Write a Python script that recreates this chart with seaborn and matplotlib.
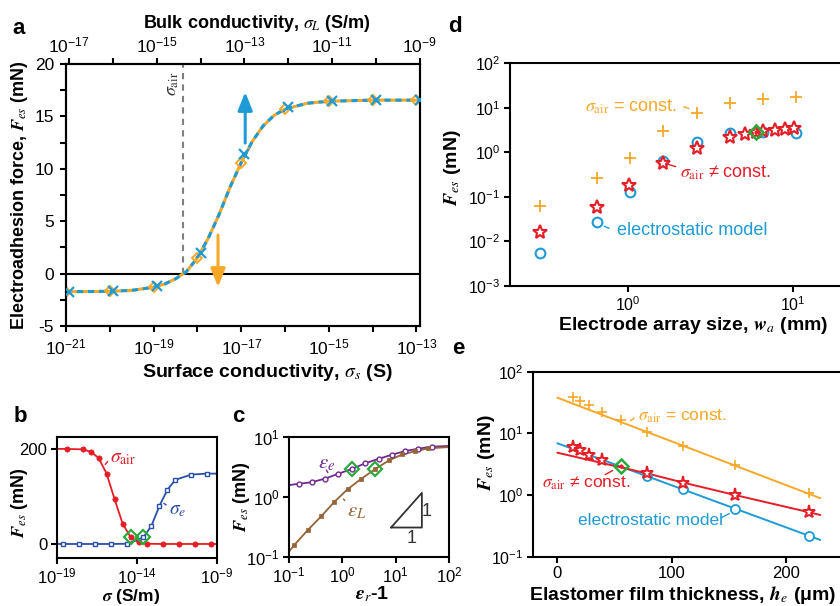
import numpy as np
import matplotlib
matplotlib.use("Agg")
import matplotlib.pyplot as plt
import matplotlib.ticker as mticker
import seaborn as sns

# ====================== DATA ======================
# (a) force vs conductivity (exponents of 10)
a_sigma_s_exp = [-21, -20, -19, -18, -17, -16, -15, -14, -13]
a_force_s = [-1.72, -1.70, -1.30, 1.50, 10.6, 15.7, 16.5, 16.55, 16.55]
a_sigma_L_exp = [-17, -16, -15, -14, -13, -12, -11, -10, -9]
a_force_L = [-1.72, -1.70, -1.20, 2.00, 11.4, 15.9, 16.5, 16.55, 16.55]
a_curve_exp = [-21.0, -20.5, -20.0, -19.5, -19.0, -18.75, -18.5, -18.25, -18.0,
               -17.75, -17.5, -17.25, -17.0, -16.75, -16.5, -16.25, -16.0,
               -15.5, -15.0, -14.0, -13.0, -12.92]
a_curve_force = [-1.72, -1.71, -1.69, -1.60, -1.30, -1.00, -0.50, 0.20, 1.50,
                 3.40, 5.70, 8.30, 10.60, 12.60, 14.10, 15.10, 15.70,
                 16.25, 16.45, 16.55, 16.55, 16.55]
a_sigma_air_exp = -18.33
a_axis_offset_exp = 3.93          # log10(sigma_L / sigma_s)
a_bottom_ticks_exp = [-21, -19, -17, -15, -13]
a_bottom_minor_exp = [-20, -18, -16, -14]
a_top_ticks_exp = [-17, -15, -13, -11, -9]
a_top_minor_exp = [-16, -14, -12, -10]

# (b) force vs sigma
b_air_exp = [-18.4, -17.4, -16.9, -16.4, -15.9, -15.4, -14.9, -14.4, -13.9,
             -13.4, -12.4, -11.4, -10.4, -9.4]
b_air_force = [200, 199, 194, 181, 148, 94, 43, 14, 3.5, 0.5, 0, 0, 0, 0]
b_air_line_exp = [-19.0] + b_air_exp + [-9.0]
b_air_line_force = [200] + b_air_force + [0]
b_e_exp = [-18.6, -17.6, -16.6, -15.6, -14.6, -13.6, -13.1, -12.6, -12.1,
           -11.6, -10.6, -9.6]
b_e_force = [0, 0, 0, 0, 0.5, 14, 38, 80, 114, 135, 146, 148]
b_e_line_exp = [-19.0] + b_e_exp + [-9.0]
b_e_line_force = [0] + b_e_force + [148]
b_green_exp = [-14.4, -13.6]
b_green_force = [14, 14]

# (c) force vs eps_r - 1
c_e_exp = [-0.81, -0.565, -0.32, -0.075, 0.176, 0.43, 0.683, 0.932, 1.176, 1.426, 1.677]
c_e_force = [1.66, 1.77, 2.03, 2.44, 2.93, 3.65, 4.33, 5.07, 5.84, 6.38, 6.89]
c_e_line_exp = [-1.0] + c_e_exp + [2.0]
c_e_line_force = [1.58] + c_e_force + [7.1]
c_L_exp = [-0.897, -0.647, -0.396, -0.152, 0.10, 0.351, 0.62, 0.871, 1.12, 1.364, 1.614]
c_L_force = [0.160, 0.282, 0.476, 0.826, 1.35, 2.0, 2.93, 4.06, 5.11, 5.78, 6.48]
c_L_line_exp = [-1.0] + c_L_exp + [2.0]
c_L_line_force = [0.123] + c_L_force + [6.8]
c_green_exp = [0.176, 0.62]
c_green_force = [2.93, 2.93]
c_tri_x = [8.2, 31.0, 31.0, 8.2]
c_tri_y = [0.31, 0.31, 1.172, 0.31]

# (d) force vs electrode array size
d_plus_w = [0.293, 0.65, 1.03, 1.64, 2.61, 4.15, 6.6, 10.5]
d_plus_force = [0.063, 0.26, 0.76, 3.04, 7.8, 12.8, 16.0, 17.8]
d_star_w = [0.293, 0.646, 1.014, 1.637, 2.61, 4.15, 5.12, 5.97, 6.6, 7.76, 8.91, 10.2]
d_star_force = [0.0164, 0.058, 0.184, 0.566, 1.27, 2.24, 2.62, 2.9, 3.0, 3.17, 3.35, 3.5]
d_circ_w = [0.293, 0.65, 1.03, 1.64, 2.61, 4.15, 6.6, 10.5]
d_circ_force = [0.0054, 0.027, 0.13, 0.64, 1.73, 2.75, 2.9, 2.67]
d_green_w = [5.97]
d_green_force = [2.9]

# (e) force vs elastomer thickness
e_plus_h = [14, 19.9, 28, 38.8, 55.7, 78.2, 110.2, 155.5, 220.2]
e_plus_force = [39.4, 33.9, 28.9, 22.5, 16.5, 10.7, 6.3, 3.07, 1.07]
e_plus_fit_h = [0, 230]
e_plus_fit_force = [37.9, 0.89]
e_star_h = [14, 19.9, 28, 38.8, 78.2, 110.2, 155.5, 220.2]
e_star_force = [6.08, 5.38, 4.47, 3.71, 2.25, 1.59, 1.0, 0.526]
e_star_fit_h = [0, 78.2, 110.2, 155.5, 220.2, 230]
e_star_fit_force = [4.86, 2.25, 1.59, 1.0, 0.526, 0.475]
e_circ_h = [78.2, 110.2, 155.5, 220.2]
e_circ_force = [2.06, 1.24, 0.596, 0.217]
e_circ_fit_h = [0, 230]
e_circ_fit_force = [6.92, 0.187]
e_green_h = [55.7]
e_green_force = [2.97]

# ====================== STYLE ======================
ORANGE = "#F7A828"
BLUE_A = "#1E9BD7"
RED = "#E41E26"
BLUE_B = "#2850A8"
PURPLE = "#73288F"
BROWN = "#966437"
GREEN = "#2AAA3C"

sns.set_style("ticks")
plt.rcParams.update({
    "font.family": ["Liberation Sans", "DejaVu Sans"],
    "mathtext.fontset": "custom",
    "mathtext.rm": "STIXGeneral",
    "mathtext.it": "STIXGeneral:italic",
    "mathtext.bf": "STIXGeneral:italic:bold",
    "axes.unicode_minus": False,
    "axes.edgecolor": "black",
    "xtick.color": "black",
    "ytick.color": "black",
    "text.color": "black",
    "axes.labelcolor": "black",
})

W, H = 840, 606
fig = plt.figure(figsize=(W / 100, H / 100), dpi=100)


def px_axes(l, r, t, b):
    return fig.add_axes([l / W, 1 - b / H, (r - l) / W, (b - t) / H])


def draw(ax, x, y, **kw):
    sns.lineplot(x=np.asarray(x, float), y=np.asarray(y, float), ax=ax,
                 estimator=None, errorbar=None, sort=False, legend=False, **kw)


def marks(ax, x, y, marker, color, ms, mew=1.2, mfc="none", zorder=3):
    draw(ax, x, y, linestyle="none", marker=marker, markersize=ms,
         markeredgewidth=mew, markeredgecolor=color, markerfacecolor=mfc,
         color=color, zorder=zorder)


def style(ax, labelsize=12, lw=1.5, length=4.5, pad=3):
    for s in ax.spines.values():
        s.set_linewidth(lw)
        s.set_color("black")
    ax.tick_params(which="both", direction="out", width=lw, length=length,
                   labelsize=labelsize, pad=pad, color="black")


def pw(e):
    return np.power(10.0, np.asarray(e, float))


axA = px_axes(66, 420, 64, 326)
axB = px_axes(57, 217, 437, 558)
axC = px_axes(289, 449, 437, 557)
axD = px_axes(510, 852, 63.3, 286)
axE = px_axes(533.3, 852, 371.7, 556.7)

# ---------------- (a) ----------------
axA.set_xscale("log")
axT = axA.twiny()
axT.set_xscale("log")
draw(axA, pw(a_curve_exp), a_curve_force, color=ORANGE, linewidth=2.2, zorder=2)
draw(axA, pw(a_curve_exp), a_curve_force, color=BLUE_A, linewidth=2.2,
     linestyle=(0, (2, 1.6)), zorder=2.1)
marks(axA, pw(a_sigma_s_exp), a_force_s, "D", ORANGE, 5.5, 1.4)
marks(axT, pw(a_sigma_L_exp), a_force_L, "x", BLUE_A, 7, 1.6)
axA.axhline(0, color="black", lw=1.5, zorder=1)
axA.vlines(10.0 ** a_sigma_air_exp, 0, 20, colors="#7f7f7f",
           linestyles=(0, (3, 2.5)), lw=1.5, zorder=1)
axA.text(10.0 ** -18.58, 18.1, r"$\sigma_{\rm air}$", rotation=90, ha="center",
         va="center", fontsize=13, color="#333333")
axA.annotate("", xy=(10.0 ** -16.91, 17.33), xytext=(10.0 ** -16.91, 12.46),
             arrowprops=dict(arrowstyle="-|>,head_length=0.55,head_width=0.22",
                             color=BLUE_A, lw=2.2, mutation_scale=20,
                             shrinkA=0, shrinkB=0))
axA.annotate("", xy=(10.0 ** -17.53, -1.28), xytext=(10.0 ** -17.53, 3.68),
             arrowprops=dict(arrowstyle="-|>,head_length=0.55,head_width=0.22",
                             color=ORANGE, lw=2.2, mutation_scale=20,
                             shrinkA=0, shrinkB=0))
axA.set_xlim(1e-21, 10.0 ** -12.92)
axT.set_xlim(10.0 ** (-21 + a_axis_offset_exp), 10.0 ** (-12.92 + a_axis_offset_exp))
axA.set_ylim(-5, 20)
axA.xaxis.set_major_locator(mticker.FixedLocator(pw(a_bottom_ticks_exp)))
axA.xaxis.set_minor_locator(mticker.FixedLocator(pw(a_bottom_minor_exp)))
axA.xaxis.set_minor_formatter(mticker.NullFormatter())
axT.xaxis.set_major_locator(mticker.FixedLocator(pw(a_top_ticks_exp)))
axT.xaxis.set_minor_locator(mticker.FixedLocator(pw(a_top_minor_exp)))
axT.xaxis.set_minor_formatter(mticker.NullFormatter())
axA.yaxis.set_major_locator(mticker.MultipleLocator(5))
axA.yaxis.set_minor_locator(mticker.MultipleLocator(2.5))
style(axA, labelsize=12.5, pad=4)
style(axT, labelsize=12.5, pad=2)
axA.tick_params(top=False, right=False)
axA.set_ylabel(r"Electroadhesion force, $\mathbf{F}_{es}$ (mN)", fontsize=13,
               fontweight="bold", va="center")
axA.yaxis.set_label_coords(-0.13, 0.5)
axA.set_xlabel(r"Surface conductivity, $\sigma_s$ (S)", fontsize=14,
               fontweight="bold", va="center")
axA.xaxis.set_label_coords(0.568, -0.179)
axT.set_xlabel(r"Bulk conductivity, $\sigma_L$ (S/m)", fontsize=13,
               fontweight="bold", va="center")
axT.xaxis.set_label_coords(0.54, 1.156)

# ---------------- (b) ----------------
axB.set_xscale("log")
draw(axB, pw(b_air_line_exp), b_air_line_force, color=RED, linewidth=1.3)
marks(axB, pw(b_air_exp), b_air_force, "o", RED, 3.8, 0.5, mfc=RED)
draw(axB, pw(b_e_line_exp), b_e_line_force, color=BLUE_B, linewidth=1.3)
marks(axB, pw(b_e_exp), b_e_force, "s", BLUE_B, 3.3, 1.0, mfc="white")
marks(axB, pw(b_green_exp), b_green_force, "D", GREEN, 7, 1.6, zorder=4)
axB.text(10.0 ** -15.69, 179.6, r"$\sigma_{\rm air}$", color=RED, fontsize=14,
         ha="left", va="center")
axB.annotate("", xy=(10.0 ** -16.1, 162.7), xytext=(10.0 ** -15.72, 178),
             arrowprops=dict(arrowstyle="-", color=RED, lw=1))
axB.text(10.0 ** -11.98, 69.9, r"$\sigma_e$", color=BLUE_B, fontsize=14,
         ha="left", va="center")
axB.annotate("", xy=(10.0 ** -12.46, 89), xytext=(10.0 ** -12.04, 78.5),
             arrowprops=dict(arrowstyle="-", color=BLUE_B, lw=1))
axB.set_xlim(1e-19, 1e-9)
axB.set_ylim(-29.5, 225)
axB.xaxis.set_major_locator(mticker.FixedLocator([1e-19, 1e-14, 1e-9]))
axB.xaxis.set_minor_locator(mticker.NullLocator())
axB.set_yticks([0, 200])
style(axB, labelsize=12, pad=2.5)
axB.tick_params(axis="x", pad=1.5)
axB.set_ylabel(r"$\mathbf{F}_{es}$ (mN)", fontsize=13, fontweight="bold", va="center")
axB.yaxis.set_label_coords((19 - 57) / 160, 0.455)
axB.set_xlabel(r"$\mathbf{\sigma}$ (S/m)", fontsize=12.5, fontweight="bold", va="center")
axB.xaxis.set_label_coords(0.466, (558 - 596) / 121)

# ---------------- (c) ----------------
axC.set_xscale("log")
axC.set_yscale("log")
draw(axC, pw(c_e_line_exp), c_e_line_force, color=PURPLE, linewidth=1.3)
marks(axC, pw(c_e_exp), c_e_force, "o", PURPLE, 3.5, 1.0, mfc="white")
draw(axC, pw(c_L_line_exp), c_L_line_force, color=BROWN, linewidth=1.3)
marks(axC, pw(c_L_exp), c_L_force, "s", BROWN, 3.5, 0.5, mfc=BROWN)
marks(axC, pw(c_green_exp), c_green_force, "D", GREEN, 7, 1.6, zorder=4)
draw(axC, c_tri_x, c_tri_y, color="#333333", linewidth=1.3)
axC.text(20, 0.2, "1", ha="center", va="center", fontsize=13, color="#333333")
axC.text(38.8, 0.57, "1", ha="center", va="center", fontsize=13, color="#333333")
axC.text(0.35, 3.55, r"$\varepsilon_e$", color=PURPLE, fontsize=15, ha="left", va="center")
axC.annotate("", xy=(0.57, 2.33), xytext=(0.473, 3.08),
             arrowprops=dict(arrowstyle="-", color=PURPLE, lw=1))
axC.text(1.21, 0.584, r"$\varepsilon_L$", color=BROWN, fontsize=15, ha="left", va="center")
axC.annotate("", xy=(0.975, 1.01), xytext=(1.2, 0.80),
             arrowprops=dict(arrowstyle="-", color=BROWN, lw=1))
axC.set_xlim(0.1, 100)
axC.set_ylim(0.1, 10)
axC.xaxis.set_major_locator(mticker.FixedLocator([0.1, 1, 10, 100]))
axC.yaxis.set_major_locator(mticker.FixedLocator([0.1, 1, 10]))
axC.xaxis.set_minor_locator(mticker.NullLocator())
axC.yaxis.set_minor_locator(mticker.NullLocator())
style(axC, labelsize=12, pad=2.5)
axC.tick_params(axis="x", pad=1.5)
axC.set_ylabel(r"$\mathbf{F}_{es}$ (mN)", fontsize=13, fontweight="bold", va="center")
axC.yaxis.set_label_coords((242 - 289) / 160, 0.5)
axC.set_xlabel(r"$\mathbf{\varepsilon}_r$-1", fontsize=14, fontweight="bold", va="center")
axC.xaxis.set_label_coords(0.52, (557 - 594) / 120)

# ---------------- (d) ----------------
axD.set_xscale("log")
axD.set_yscale("log")
marks(axD, d_plus_w, d_plus_force, "+", ORANGE, 8.5, 1.3)
marks(axD, d_circ_w, d_circ_force, "o", BLUE_A, 7, 1.5)
marks(axD, d_star_w, d_star_force, "*", RED, 10.5, 1.5, mfc="white", zorder=4)
marks(axD, d_green_w, d_green_force, "D", GREEN, 7, 1.8, mfc="none", zorder=5)
axD.text(0.549, 10.7, r"$\sigma_{\rm air}$ = const.", color=ORANGE, fontsize=13,
         ha="left", va="center")
axD.annotate("", xy=(2.43, 9.25), xytext=(2.1, 10.96),
             arrowprops=dict(arrowstyle="-", color=ORANGE, lw=1))
axD.text(2.07, 0.352, r"$\sigma_{\rm air}$ ≠ const.", color=RED, fontsize=13,
         ha="left", va="center")
axD.annotate("", xy=(1.675, 0.566), xytext=(2.02, 0.46),
             arrowprops=dict(arrowstyle="-", color=RED, lw=1))
axD.text(0.854, 0.0179, "electrostatic model", color=BLUE_A, fontsize=13,
         ha="left", va="center")
axD.annotate("", xy=(0.693, 0.0232), xytext=(0.796, 0.0186),
             arrowprops=dict(arrowstyle="-", color=BLUE_A, lw=1))
axD.set_xlim(10.0 ** -0.715, 10.0 ** 1.358)
axD.set_ylim(1e-3, 1e2)
axD.xaxis.set_major_locator(mticker.FixedLocator([1, 10]))
axD.yaxis.set_major_locator(mticker.FixedLocator([1e-3, 1e-2, 1e-1, 1, 10, 100]))
axD.xaxis.set_minor_locator(mticker.NullLocator())
axD.yaxis.set_minor_locator(mticker.NullLocator())
style(axD, labelsize=11.5, pad=2.5)
axD.set_ylabel(r"$\mathbf{F}_{es}$ (mN)", fontsize=14, fontweight="bold", va="center")
axD.yaxis.set_label_coords(-0.168, 0.53)
axD.set_xlabel(r"Electrode array size, $\mathbf{w}_a$ (mm)", fontsize=14,
               fontweight="bold", va="center")
axD.xaxis.set_label_coords(0.535, (286 - 325) / 222.7)

# ---------------- (e) ----------------
axE.set_yscale("log")
draw(axE, e_plus_fit_h, e_plus_fit_force, color=ORANGE, linewidth=1.4)
draw(axE, e_circ_fit_h, e_circ_fit_force, color=BLUE_A, linewidth=1.4)
draw(axE, e_star_fit_h, e_star_fit_force, color=RED, linewidth=1.4)
marks(axE, e_plus_h, e_plus_force, "+", ORANGE, 7, 1.2)
marks(axE, e_circ_h, e_circ_force, "o", BLUE_A, 6.5, 1.3, mfc="white")
marks(axE, e_star_h, e_star_force, "*", RED, 9.5, 1.4, mfc="white", zorder=4)
marks(axE, e_green_h, e_green_force, "o", RED, 2.5, 0.5, mfc=RED, zorder=5)
marks(axE, e_green_h, e_green_force, "D", GREEN, 7, 1.8, zorder=5)
axE.text(70.9, 19.1, r"$\sigma_{\rm air}$ = const.", color=ORANGE, fontsize=12.5,
         ha="left", va="center")
axE.annotate("", xy=(62.1, 14.9), xytext=(69.1, 18.9),
             arrowprops=dict(arrowstyle="-", color=ORANGE, lw=1))
axE.text(-13.6, 1.57, r"$\sigma_{\rm air}$ ≠ const.", color=RED, fontsize=12.5,
         ha="left", va="center")
axE.annotate("", xy=(50.5, 2.62), xytext=(39.7, 2.04),
             arrowprops=dict(arrowstyle="-", color=RED, lw=1))
axE.text(18.1, 0.38, "electrostatic model", color=BLUE_A, fontsize=12.5,
         ha="left", va="center")
axE.annotate("", xy=(152.6, 0.526), xytext=(140.9, 0.405),
             arrowprops=dict(arrowstyle="-", color=BLUE_A, lw=1))
axE.set_xlim(-21, 257.8)
axE.set_ylim(0.1, 100)
axE.set_xticks([0, 100, 200])
axE.yaxis.set_major_locator(mticker.FixedLocator([0.1, 1, 10, 100]))
axE.yaxis.set_minor_locator(mticker.NullLocator())
style(axE, labelsize=12, pad=2.5)
axE.tick_params(axis="y", labelsize=11.5)
axE.set_ylabel(r"$\mathbf{F}_{es}$ (mN)", fontsize=14, fontweight="bold", va="center")
axE.yaxis.set_label_coords(-0.146, 0.56)
axE.set_xlabel(r"Elastomer film thickness, $\mathbf{h}_e$ (μm)", fontsize=14,
               fontweight="bold", va="center")
axE.xaxis.set_label_coords(0.468, -0.207)

# red centre inside the (d) diamond
marks(axD, d_green_w, d_green_force, "o", RED, 2.5, 0.5, mfc=RED, zorder=6)

# panel letters
for letter, (x, y) in {"a": (19, 28), "b": (20, 417), "c": (238, 417),
                       "d": (455, 27), "e": (458, 349)}.items():
    fig.text(x / W, 1 - y / H, letter, fontsize=16, fontweight="bold",
             ha="center", va="center")

fig.savefig("out.png", dpi=100)
